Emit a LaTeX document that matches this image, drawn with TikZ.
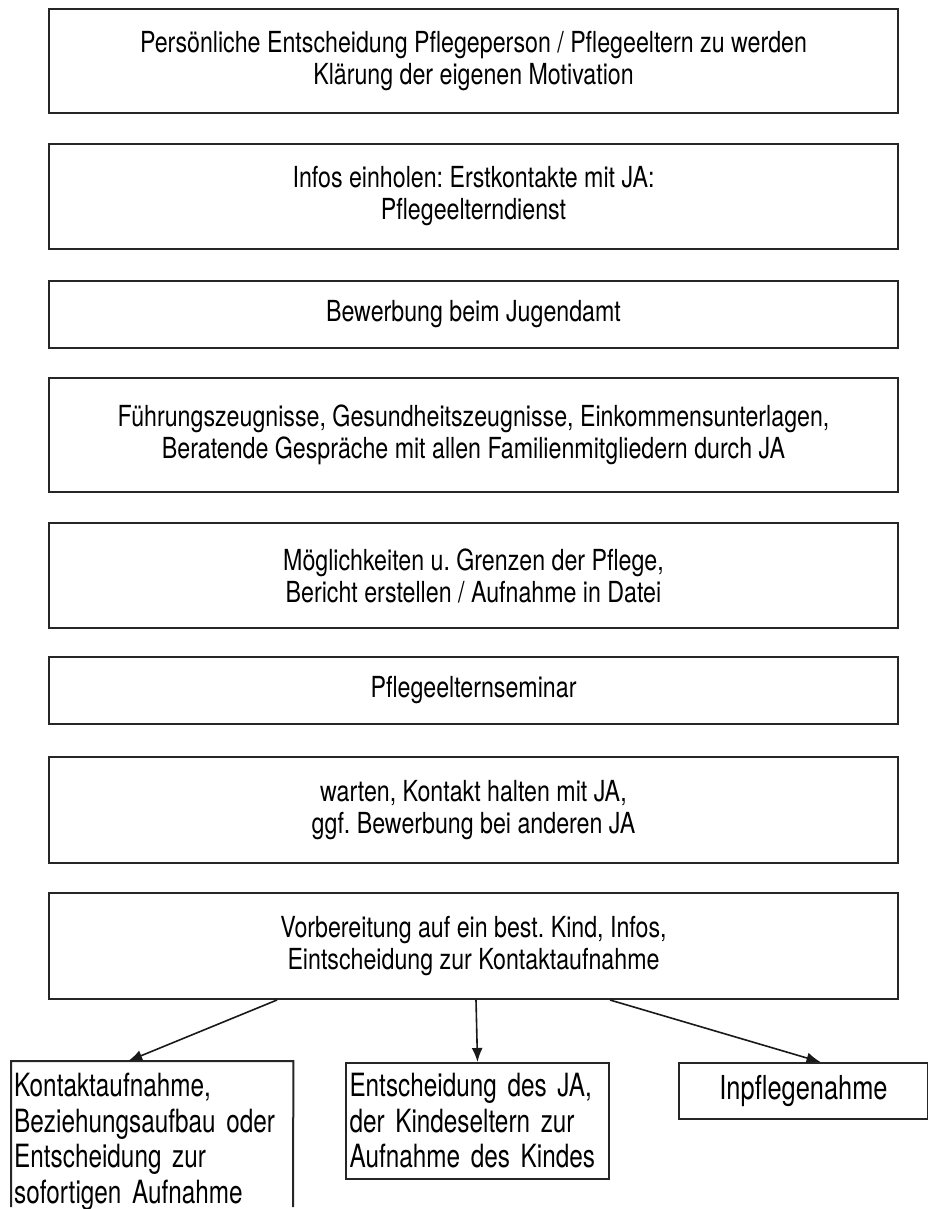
\documentclass[tikz,border=0pt]{standalone}
\usepackage{fontspec}
\setmainfont{TeX Gyre Heros}[FakeStretch=0.8]
\newfontfamily\lowfont{TeX Gyre Heros}[FakeStretch=0.76, WordSpace=0.7]
\newfontfamily\bigfont{TeX Gyre Heros}[FakeStretch=0.77]
\usetikzlibrary{arrows.meta}
\tikzset{
  mainbox/.style={draw=black!85, line width=2pt, minimum width=849pt, inner sep=0pt, align=center,
    font=\fontsize{29}{32}\selectfont},
  lowtext/.style={inner sep=0pt, font=\lowfont\fontsize{32}{35.5}\selectfont},
  boxline/.style={draw=black!85, line width=2pt},
  conn/.style={draw=black!90, line width=1.6pt, -{Latex[length=14pt,width=11pt]}}
}
\frenchspacing
\begin{document}
\begin{tikzpicture}[x=1pt,y=-1pt]
\useasboundingbox (0,0) rectangle (928,1209);
\node[mainbox, minimum height=104pt] (b1) at (473.5,61) {Persönliche Entscheidung Pflegeperson / Pflegeeltern zu werden\\Klärung der eigenen Motivation};
\node[mainbox, minimum height=105pt] (b2) at (473.5,196.5) {Infos einholen: Erstkontakte mit JA:\\Pflegeelterndienst};
\node[mainbox, minimum height=67pt] (b3) at (473.5,314.5) {Bewerbung beim Jugendamt};
\node[mainbox, minimum height=114pt] (b4) at (473.5,435) {Führungszeugnisse, Gesundheitszeugnisse, Einkommensunterlagen,\\Beratende Gespräche mit allen Familienmitgliedern durch JA};
\node[mainbox, minimum height=105pt] (b5) at (473.5,575.5) {Möglichkeiten u. Grenzen der Pflege,\\Bericht erstellen / Aufnahme in Datei};
\node[mainbox, minimum height=67pt] (b6) at (473.5,690.5) {Pflegeelternseminar};
\node[mainbox, minimum height=106pt] (b7) at (473.5,810) {warten, Kontakt halten mit JA,\\ggf. Bewerbung bei anderen JA};
\node[mainbox, minimum height=106pt] (b8) at (473.5,946) {Vorbereitung auf ein best. Kind, Infos,\\Eintscheidung zur Kontaktaufnahme};
% lower boxes
\node[lowtext, inner xsep=3pt, inner ysep=12pt, text width=276pt, align=left, anchor=north west] (k1) at (11,1061)
  {Kontaktaufnahme,\\Beziehungsaufbau oder\\Entscheidung zur\\sofortigen Aufnahme};
\coordinate (k1l) at (11,1207);
\coordinate (k1r) at (293,1207);
\draw[boxline] (k1l) -- (k1.north west) -- (k1.north east) -- (k1r);
\node[lowtext, draw=black!85, line width=2pt, minimum width=263pt, minimum height=116pt, text width=256pt, align=left, anchor=north west] (k2) at (345,1062)
  {Entscheidung des JA,\\der Kindeseltern zur\\Aufnahme des Kindes};
\node[font=\bigfont\fontsize{33}{36}\selectfont, inner sep=0pt, draw=black!85, line width=2pt, minimum width=249pt, minimum height=56pt, anchor=north west] (k3) at (678,1062)
  {Inpflegenahme};
% connectors
\draw[conn] ([xshift=-196.5pt]b8.south) -- ([xshift=-24pt]k1.north);
\draw[conn] ([xshift=2.5pt]b8.south) -- (k2.north);
\draw[conn] ([xshift=136.5pt]b8.south) -- ([xshift=17pt]k3.north);
\end{tikzpicture}
\end{document}
